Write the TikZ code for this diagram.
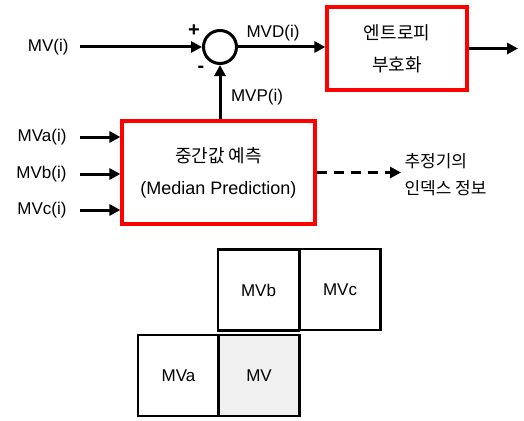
\documentclass[tikz,border=0pt]{standalone}
\usepackage{fontspec}
\setmainfont{Liberation Sans}
\newfontfamily\kr{Noto Sans CJK KR}
\usetikzlibrary{arrows.meta}

\begin{document}
\begin{tikzpicture}[x=1pt,y=-1pt,line width=3pt,>={Triangle[length=11pt,width=11pt]},font=\fontsize{17}{20}\selectfont]
\useasboundingbox (0,0) rectangle (524,420);
\tikzstyle{rbox}=[draw=red,line width=3.2pt,align=center,inner sep=0pt]
\tikzstyle{cell}=[draw,line width=2.6pt,minimum size=81pt,inner sep=0pt]
\tikzstyle{lab}=[inner sep=2pt]

% top row
\node[circle,draw,minimum size=33pt,inner sep=0pt](S) at (220,47) {};
\node[lab,anchor=east](V) at (72,47) {MV(i)};
\node[lab,font=\fontsize{20}{20}\selectfont](P) at (194,31) {\textbf{+}};
\node[lab,font=\fontsize{20}{20}\selectfont](N) at (201,69) {\textbf{-}};
\node[lab](D) at (273,33) {MVD(i)};
\node[rbox,minimum width=140pt,minimum height=83pt,font=\kr\fontsize{18}{32}\selectfont](E) at (397,48.5) {엔트로피\\부호화};
\coordinate (O) at (518,48.5);

% median box
\node[rbox,minimum width=193pt,minimum height=103pt,font=\fontsize{18}{32}\selectfont](M) at (218.5,172.5) {{\kr 중간값 예측}\\(Median Prediction)};
\node[lab](L) at (257,97) {MVP(i)};
\node[lab,anchor=west,align=left,font=\kr\fontsize{17}{27}\selectfont](T) at (401,175) {추정기의\\인덱스 정보};

\draw[->] ([xshift=8pt]V.east) -- (S.west);
\draw[->] (S.east) -- (S.east -| E.west);
\draw[->] (E.east) -- (O);
\draw[->] (S.south |- M.north) -- (S.south);
\draw[->,dash pattern=on 10pt off 7pt] (M.east) -- (M.east -| T.west);

\foreach \n/\t/\y in {A/MVa(i)/137,B/MVb(i)/174,C/MVc(i)/210} {
  \node[lab,anchor=east](\n) at (70,\y) {\t};
  \draw[->] ([xshift=10pt]\n.east) -- (\n -| M.west);
}

% neighbour blocks
\node[cell](Gb) at (258.5,290) {MVb};
\node[cell](Gc) at (340,289.5) {MVc};
\node[cell](Ga) at (178.5,375.5) {MVa};
\node[cell,fill=black!6](G) at (259,375.5) {MV};
\end{tikzpicture}
\end{document}
